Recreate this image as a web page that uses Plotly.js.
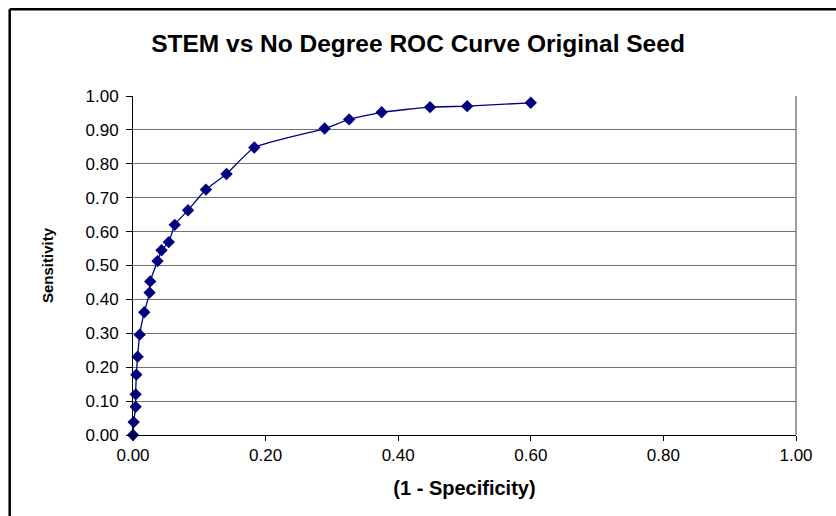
<!DOCTYPE html>
<html>
<head>
<meta charset="utf-8">
<script src="https://cdn.plot.ly/plotly-3.0.1.min.js"></script>
<style>
  html, body { margin: 0; padding: 0; background: #ffffff; }
  #chart { width: 836px; height: 516px; }
</style>
</head>
<body>
<div id="chart"></div>
<script>
// ---- Data ----
const oneMinusSpecificity = [0, 0.001, 0.004, 0.004, 0.005, 0.007, 0.010, 0.017, 0.025, 0.026,
  0.037, 0.043, 0.054, 0.063, 0.083, 0.110, 0.141, 0.183, 0.289, 0.326, 0.375, 0.448, 0.504, 0.600];
const sensitivity = [0, 0.038, 0.083, 0.120, 0.178, 0.231, 0.296, 0.362, 0.420, 0.453,
  0.513, 0.545, 0.569, 0.620, 0.663, 0.724, 0.770, 0.848, 0.904, 0.931, 0.952, 0.967, 0.970, 0.980];
const xTickVals = [0, 0.2, 0.4, 0.6, 0.8, 1.0];
const xTickText = ["0.00", "0.20", "0.40", "0.60", "0.80", "1.00"];
const yTickVals = [0, 0.1, 0.2, 0.3, 0.4, 0.5, 0.6, 0.7, 0.8, 0.9, 1.0];
const yTickText = ["0.00", "0.10", "0.20", "0.30", "0.40", "0.50", "0.60", "0.70", "0.80", "0.90", "1.00"];
const chartTitle = "STEM vs No Degree ROC Curve Original Seed";
const xTitle = "(1 - Specificity)";
const yTitle = "Sensitivity";

// ---- Layout geometry ----
const W = 836, H = 516;
const M = { l: 132.5, r: 39.5, t: 96, b: 80.5 };
const pw = W - M.l - M.r, ph = H - M.t - M.b;
const px2paperX = p => (p - M.l) / pw;
const py2paperY = p => (H - M.b - p) / ph;

const FONT = "Liberation Sans, Arial, sans-serif";

const trace = {
  type: "scatter",
  mode: "lines+markers",
  x: oneMinusSpecificity,
  y: sensitivity,
  line: { color: "#000080", width: 1.3, shape: "spline", smoothing: 0.5 },
  marker: { symbol: "diamond", size: 9.5, color: "#000080" },
  cliponaxis: false,
  showlegend: false,
  hoverinfo: "x+y"
};

const layout = {
  width: W, height: H,
  margin: M,
  paper_bgcolor: "#ffffff",
  plot_bgcolor: "#ffffff",
  showlegend: false,
  title: {
    text: "<b>" + chartTitle + "</b>",
    font: { family: FONT, size: 24.5, color: "#000000" },
    x: 0.5, xref: "container", xanchor: "center",
    y: 1 - 43 / H, yref: "container", yanchor: "middle"
  },
  xaxis: {
    range: [0, 1],
    tickvals: xTickVals, ticktext: xTickText,
    ticks: "outside", ticklen: 5, tickwidth: 1, tickcolor: "#000000",
    showgrid: false, zeroline: false,
    showline: true, linecolor: "#000000", linewidth: 1,
    tickfont: { family: FONT, size: 17, color: "#000000" },
    title: { text: "<b>" + xTitle + "</b>", font: { family: FONT, size: 20, color: "#000000" }, standoff: 16 },
    fixedrange: true
  },
  yaxis: {
    range: [0, 1],
    tickvals: yTickVals, ticktext: yTickText,
    ticks: "outside", ticklen: 6, tickwidth: 1, tickcolor: "#000000",
    ticklabelstandoff: 4,
    showgrid: true, gridcolor: "#707070", gridwidth: 1,
    zeroline: false,
    showline: true, linecolor: "#000000", linewidth: 1,
    tickfont: { family: FONT, size: 17, color: "#000000" },
    title: { text: "<b>" + yTitle + "</b>", font: { family: FONT, size: 15, color: "#000000" }, standoff: 28 },
    fixedrange: true
  },
  shapes: [
    // right border of plot area (grey)
    { type: "line", xref: "paper", yref: "paper", x0: 1, x1: 1, y0: 0, y1: 1,
      line: { color: "#808080", width: 1.5 } },
    // outer chart border (top and left, running off the image)
    { type: "line", xref: "paper", yref: "paper",
      x0: px2paperX(9), x1: px2paperX(W + 5), y0: py2paperY(9), y1: py2paperY(9),
      line: { color: "#000000", width: 2.5 } },
    { type: "line", xref: "paper", yref: "paper",
      x0: px2paperX(9), x1: px2paperX(9), y0: py2paperY(9), y1: py2paperY(H + 5),
      line: { color: "#000000", width: 2.5 } }
  ]
};

Plotly.newPlot("chart", [trace], layout, { displayModeBar: false, staticPlot: true });
</script>
</body>
</html>
